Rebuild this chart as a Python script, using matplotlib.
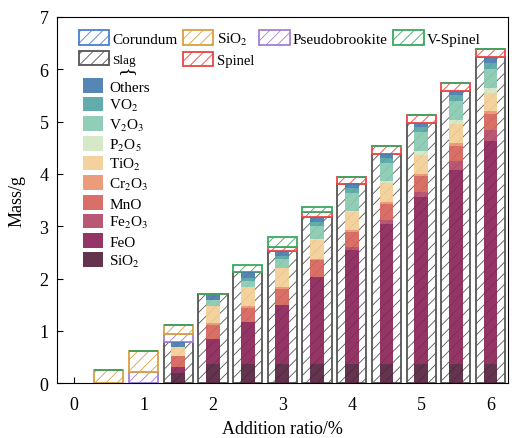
import matplotlib
matplotlib.use('Agg')
import matplotlib.pyplot as plt
import matplotlib.patches as mpatches
import numpy as np

plt.rcParams['font.family'] = 'serif'
plt.rcParams['font.serif'] = ['Liberation Serif', 'DejaVu Serif']
plt.rcParams['mathtext.fontset'] = 'stix'
plt.rcParams['hatch.linewidth'] = 0.6

# addition ratio positions
x = [0.5, 1.0, 1.5, 2.0, 2.5, 3.0, 3.5, 4.0, 4.5, 5.0, 5.5, 6.0]

# phases (outer hatched bars), g
slag = [0, 0, 0.79, 1.70, 2.13, 2.52, 3.17, 3.81, 4.39, 4.97, 5.59, 6.23]
corundum = [0] * 12
pseudobrookite = [0, 0.21, 0.15, 0, 0, 0, 0, 0, 0, 0, 0, 0]
sio2_ph = [0.25, 0.41, 0.18, 0, 0, 0, 0, 0, 0, 0, 0, 0]
spinel = [0, 0, 0, 0, 0, 0.08, 0.10, 0.14, 0.14, 0.15, 0.14, 0.15]
v_spinel = [0, 0, 0, 0, 0.12, 0.19, 0.10, 0, 0, 0, 0, 0]

# slag composition (inner stacked bars), g
c_sio2 = [0, 0, 0.19, 0.36, 0.36, 0.36, 0.36, 0.36, 0.36, 0.36, 0.36, 0.36]
c_feo = [0, 0, 0.11, 0.48, 0.80, 1.13, 1.66, 2.19, 2.69, 3.20, 3.72, 4.26]
c_fe2o3 = [0, 0, 0, 0, 0, 0, 0, 0.05, 0.06, 0.10, 0.16, 0.21]
c_mno = [0, 0, 0.22, 0.28, 0.28, 0.31, 0.33, 0.29, 0.31, 0.30, 0.29, 0.32]
c_cr2o3 = [0, 0, 0, 0.02, 0.03, 0.03, 0.03, 0.03, 0.04, 0.04, 0.07, 0.05]
c_tio2 = [0, 0, 0.18, 0.34, 0.36, 0.37, 0.36, 0.35, 0.37, 0.37, 0.36, 0.35]
c_p2o5 = [0, 0, 0, 0, 0, 0, 0.01, 0.03, 0.03, 0.07, 0.08, 0.09]
c_v2o3 = [0, 0, 0, 0.10, 0.13, 0.18, 0.26, 0.34, 0.34, 0.36, 0.35, 0.36]
c_vo2 = [0, 0, 0, 0, 0.05, 0.05, 0.08, 0.09, 0.10, 0.10, 0.11, 0.13]
c_others = [0, 0, 0.08, 0.10, 0.11, 0.09, 0.09, 0.09, 0.09, 0.07, 0.09, 0.10]

fig = plt.figure(figsize=(5.12, 4.39), dpi=100)
ax = fig.add_axes([0.111, 0.125, 0.881, 0.834])

# outer phase bars
phases = [
    ('Slag', slag, '#555555'),
    ('Corundum', corundum, '#4a7fd0'),
    ('Pseudobrookite', pseudobrookite, '#a57fd6'),
    (r'SiO$_2$', sio2_ph, '#d9a040'),
    ('Spinel', spinel, '#e84545'),
    ('V-Spinel', v_spinel, '#3aa860'),
]
bottom = np.zeros(len(x))
handles = {}
for name, vals, col in phases:
    vals = np.array(vals, dtype=float)
    ax.bar(x, vals, 0.42, bottom=bottom, facecolor='white', edgecolor=col,
           hatch='///', linewidth=1.3, zorder=2)
    bottom += vals
    handles[name] = mpatches.Patch(facecolor='white', edgecolor=col, hatch='///',
                                   linewidth=1.3, label=name)

# inner composition bars
comps = [
    (r'SiO$_2$', c_sio2, '#56223f'),
    ('FeO', c_feo, '#8a2458'),
    (r'Fe$_2$O$_3$', c_fe2o3, '#b24a68'),
    ('MnO', c_mno, '#d6645a'),
    (r'Cr$_2$O$_3$', c_cr2o3, '#ea9470'),
    (r'TiO$_2$', c_tio2, '#f4cf96'),
    (r'P$_2$O$_5$', c_p2o5, '#d2e7c4'),
    (r'V$_2$O$_3$', c_v2o3, '#88c9b1'),
    (r'VO$_2$', c_vo2, '#55a6a5'),
    ('Others', c_others, '#477cae'),
]
bottom = np.zeros(len(x))
comp_handles = []
for name, vals, col in comps:
    vals = np.array(vals, dtype=float)
    ax.bar(x, vals, 0.2, bottom=bottom, color=col, alpha=0.92, linewidth=0, zorder=3)
    bottom += vals
    comp_handles.append(mpatches.Patch(facecolor=col, alpha=0.92, label=name))

ax.set_xlim(-0.25, 6.25)
ax.set_ylim(0, 7)
ax.set_xticks(range(7))
ax.set_yticks(range(8))
ax.tick_params(direction='in', length=4, labelsize=13)
ax.tick_params(axis='x', pad=9)
ax.tick_params(axis='y', pad=6)
ax.set_xlabel('Addition ratio/%', fontsize=13, labelpad=5)
ax.set_ylabel('Mass/g', fontsize=13, labelpad=10)

order = ['Corundum', 'Slag', r'SiO$_2$', 'Spinel', 'Pseudobrookite', 'V-Spinel']
leg1 = ax.legend([handles[k] for k in order], order, ncol=4, loc='upper left',
                 bbox_to_anchor=(0.035, 0.98), frameon=False, fontsize=11,
                 handlelength=2.0, handleheight=1.1, handletextpad=0.2,
                 columnspacing=0.35, labelspacing=0.3, borderaxespad=0)
leg1.get_texts()[1].set_fontsize(9.5)
leg1.get_texts()[3].set_fontsize(10.5)
ax.add_artist(leg1)

ax.legend(handles=comp_handles[::-1], loc='upper left', bbox_to_anchor=(0.045, 0.85),
          frameon=False, fontsize=11, handlelength=1.3, handleheight=1.1,
          handletextpad=0.4, labelspacing=0.2, borderaxespad=0)

ax.text(0.155, 0.857, '}', rotation=90, transform=ax.transAxes, fontsize=14,
        ha='center', va='center')

fig.savefig('out.png', dpi=100)
